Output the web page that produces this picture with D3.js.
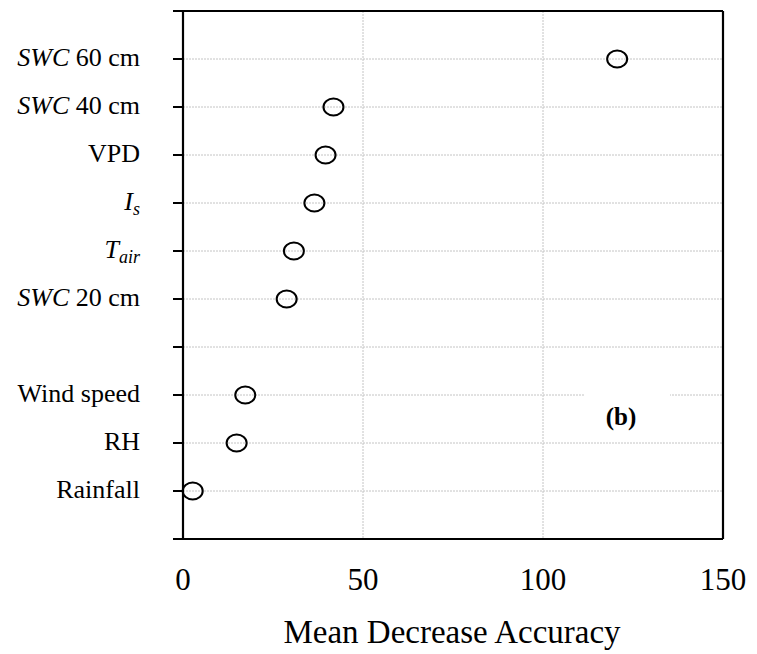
<!DOCTYPE html>
<html>
<head>
<meta charset="utf-8">
<script src="https://d3js.org/d3.v7.min.js"></script>
<style>
  body { margin: 0; background: #fff; }
</style>
</head>
<body>
<div id="chart"></div>
<script>
// variables, top to bottom ("" is the empty slot in the original)
const categories = ["SWC 60 cm", "SWC 40 cm", "VPD", "I_s", "T_air", "SWC 20 cm", "", "Wind speed", "RH", "Rainfall"];
const meanDecreaseAccuracy = [120.6, 41.8, 39.6, 36.5, 30.8, 28.8, null, 17.3, 14.9, 2.7];
const xTicks = [0, 50, 100, 150];
const xTitle = "Mean Decrease Accuracy";
const panelTag = "(b)";

const width = 757, height = 654;
const margin = { top: 11, right: 34, bottom: 115, left: 183 };
const serif = '"Liberation Serif"';

const svg = d3.select("#chart").append("svg")
    .attr("width", width)
    .attr("height", height);

const x = d3.scaleLinear().domain([0, 150]).range([margin.left, width - margin.right]);
const y = d3.scalePoint().domain(categories).range([margin.top, height - margin.bottom]).padding(1);

const x0 = x.range()[0], x1 = x.range()[1];
const y0 = y.range()[0], y1 = y.range()[1];

// grid
const gridStyle = g => g.attr("stroke", "#c4c4c4").attr("stroke-width", 1).attr("stroke-dasharray", "2,1");
svg.append("g").call(gridStyle)
  .selectAll("line").data(categories).join("line")
    .attr("x1", x0).attr("x2", x1)
    .attr("y1", d => y(d)).attr("y2", d => y(d));
svg.append("g").call(gridStyle)
  .selectAll("line").data(xTicks.slice(1, -1)).join("line")
    .attr("x1", d => x(d)).attr("x2", d => x(d))
    .attr("y1", y0).attr("y2", y1);

// white box behind the panel tag
svg.append("rect")
    .attr("x", 585).attr("y", 393)
    .attr("width", 85).attr("height", 49)
    .attr("fill", "#fff");

// left axis ticks
svg.append("g")
  .selectAll("line").data(categories).join("line")
    .attr("x1", x0 - 10).attr("x2", x0)
    .attr("y1", d => y(d)).attr("y2", d => y(d))
    .attr("stroke", "#000").attr("stroke-width", 2);

// frame (top and bottom lines run out to the tick length)
const frame = svg.append("g").attr("stroke", "#000").attr("stroke-width", 2.2).attr("fill", "none");
frame.append("line").attr("x1", x0 - 10).attr("x2", x1).attr("y1", y0).attr("y2", y0);
frame.append("line").attr("x1", x0 - 10).attr("x2", x1).attr("y1", y1).attr("y2", y1);
frame.append("line").attr("x1", x0).attr("x2", x0).attr("y1", y0).attr("y2", y1);
frame.append("line").attr("x1", x1).attr("x2", x1).attr("y1", y0).attr("y2", y1);

// points
const points = categories.map((c, i) => ({ c, v: meanDecreaseAccuracy[i] })).filter(d => d.v != null);
svg.append("g")
  .selectAll("ellipse").data(points).join("ellipse")
    .attr("cx", d => x(d.v))
    .attr("cy", d => y(d.c))
    .attr("rx", 10).attr("ry", 8.5)
    .attr("fill", "none")
    .attr("stroke", "#000")
    .attr("stroke-width", 2);

// category labels
const labels = svg.append("g")
  .selectAll("text").data(categories.filter(c => c !== "")).join("text")
    .style("font-family", serif)
    .attr("text-anchor", "end")
    .attr("font-size", 26)
    .attr("x", 140)
    .attr("y", d => y(d) + 7);

labels.each(function(d) {
    const t = d3.select(this);
    if (d.startsWith("SWC ")) {
        t.append("tspan").attr("font-style", "italic").text("SWC");
        t.append("tspan").text(d.slice(3));
    } else if (d.includes("_")) {
        const [main, sub] = d.split("_");
        t.append("tspan").attr("font-style", "italic").text(main);
        t.append("tspan").attr("font-style", "italic").attr("font-size", 18).attr("dy", 5).text(sub);
    } else {
        t.text(d);
    }
});

// x tick labels
svg.append("g")
  .selectAll("text").data(xTicks).join("text")
    .style("font-family", serif)
    .attr("text-anchor", "middle")
    .attr("font-size", 31)
    .attr("x", d => x(d))
    .attr("y", 590)
    .text(d => d);

// x title
svg.append("text")
    .style("font-family", serif)
    .attr("text-anchor", "middle")
    .attr("font-size", 33)
    .attr("x", (x0 + x1) / 2 - 1)
    .attr("y", 643)
    .text(xTitle);

// panel tag
svg.append("text")
    .style("font-family", serif)
    .attr("text-anchor", "middle")
    .attr("font-size", 25)
    .attr("font-weight", "bold")
    .attr("x", 621)
    .attr("y", 425)
    .text(panelTag);
</script>
</body>
</html>
